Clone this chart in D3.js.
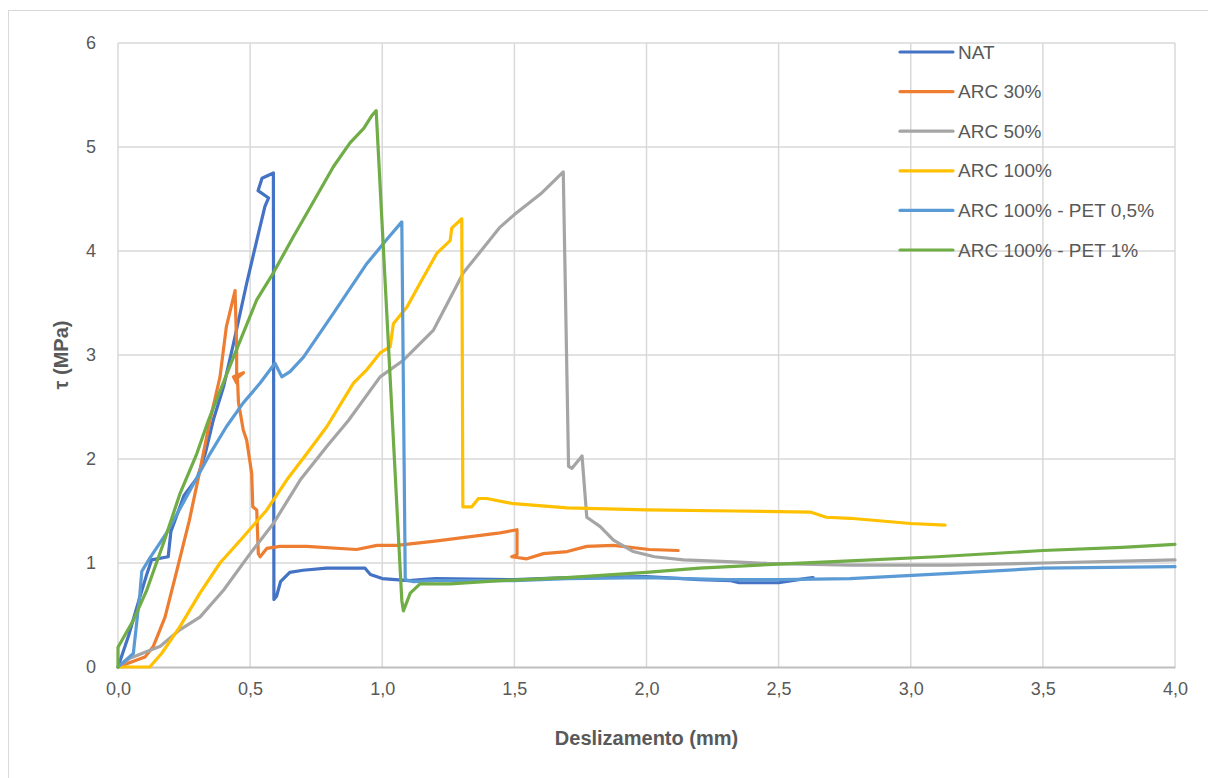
<!DOCTYPE html>
<html>
<head>
<meta charset="utf-8">
<script src="https://cdn.jsdelivr.net/npm/d3@7"></script>
<style>
  body { margin: 0; background: #fff; }
  text { font-family: "Liberation Sans", Arial, sans-serif; fill: #595959; }
</style>
</head>
<body>
<script>
const seriesNames = ["NAT", "ARC 30%", "ARC 50%", "ARC 100%", "ARC 100% - PET 0,5%", "ARC 100% - PET 1%"]
const colors = ["#4472C4", "#ED7D31", "#A5A5A5", "#FFC000", "#5B9BD5", "#70AD47"]
const xTicks = [0, 0.5, 1, 1.5, 2, 2.5, 3, 3.5, 4]
const yTicks = [0, 1, 2, 3, 4, 5, 6]

// [deslizamento mm, tau MPa]
const nat = [[0,0],[0.04,0.3],[0.08,0.65],[0.11,0.9],[0.127,1.03],[0.19,1.06],[0.2,1.3],[0.25,1.65],[0.3,1.82],[0.33,2.05],[0.36,2.37],[0.4,2.7],[0.437,3.11],[0.487,3.69],[0.525,4.1],[0.556,4.43],[0.57,4.51],[0.53,4.58],[0.545,4.70],[0.588,4.75],[0.59,0.65],[0.6,0.68],[0.615,0.82],[0.65,0.91],[0.7,0.93],[0.79,0.95],[0.935,0.95],[0.955,0.89],[1.0,0.85],[1.1,0.83],[1.2,0.85],[1.5,0.84],[1.7,0.86],[2.0,0.87],[2.2,0.84],[2.32,0.83],[2.35,0.81],[2.5,0.81],[2.6,0.85],[2.63,0.86]]
const arc30 = [[0,0],[0.102,0.095],[0.134,0.2],[0.178,0.48],[0.22,0.9],[0.27,1.41],[0.31,1.89],[0.348,2.37],[0.386,2.79],[0.41,3.27],[0.443,3.62],[0.449,3.08],[0.449,2.73],[0.437,2.79],[0.475,2.83],[0.452,2.78],[0.456,2.54],[0.474,2.28],[0.487,2.18],[0.506,1.86],[0.51,1.54],[0.525,1.51],[0.531,1.09],[0.538,1.06],[0.563,1.14],[0.613,1.16],[0.714,1.16],[0.903,1.13],[0.98,1.17],[1.055,1.17],[1.2,1.21],[1.446,1.29],[1.51,1.32],[1.51,1.08],[1.49,1.06],[1.547,1.04],[1.61,1.09],[1.7,1.11],[1.774,1.16],[1.875,1.17],[2.01,1.13],[2.12,1.12]]
const arc50 = [[0,0],[0.045,0.085],[0.16,0.2],[0.235,0.36],[0.31,0.48],[0.4,0.74],[0.5,1.09],[0.588,1.38],[0.69,1.8],[0.79,2.12],[0.872,2.37],[0.992,2.79],[1.08,2.95],[1.194,3.24],[1.307,3.79],[1.446,4.23],[1.5,4.35],[1.6,4.55],[1.685,4.76],[1.705,1.93],[1.718,1.91],[1.756,2.03],[1.774,1.44],[1.825,1.35],[1.875,1.22],[1.95,1.11],[2.03,1.06],[2.14,1.03],[2.33,1.01],[2.456,0.996],[2.77,0.98],[3.15,0.98],[3.5,1.0],[4.0,1.03]]
const arc100 = [[0,0],[0.12,0],[0.165,0.13],[0.235,0.39],[0.31,0.71],[0.386,1.0],[0.474,1.25],[0.563,1.51],[0.639,1.8],[0.714,2.05],[0.79,2.31],[0.891,2.73],[0.942,2.86],[0.992,3.02],[1.03,3.08],[1.042,3.3],[1.093,3.46],[1.143,3.69],[1.207,3.98],[1.257,4.1],[1.263,4.22],[1.301,4.31],[1.305,1.54],[1.339,1.54],[1.364,1.62],[1.395,1.62],[1.497,1.57],[1.7,1.53],[2.0,1.51],[2.33,1.5],[2.62,1.49],[2.68,1.44],[2.77,1.43],[3.0,1.38],[3.13,1.365]]
const pet05 = [[0,0],[0.058,0.13],[0.083,0.71],[0.09,0.92],[0.121,1.05],[0.184,1.29],[0.26,1.64],[0.348,2.05],[0.41,2.31],[0.474,2.54],[0.538,2.73],[0.594,2.92],[0.62,2.79],[0.651,2.84],[0.702,2.98],[0.815,3.4],[0.942,3.88],[1.017,4.11],[1.074,4.28],[1.087,0.84],[1.118,0.82],[1.2,0.83],[1.5,0.83],[1.7,0.85],[2.0,0.86],[2.3,0.84],[2.5,0.84],[2.77,0.85],[3.15,0.9],[3.5,0.95],[4.0,0.965]]
const pet1 = [[0,0],[0,0.19],[0.058,0.45],[0.109,0.74],[0.172,1.19],[0.235,1.67],[0.298,2.05],[0.342,2.37],[0.437,2.98],[0.525,3.53],[0.588,3.79],[0.664,4.14],[0.714,4.36],[0.815,4.81],[0.878,5.04],[0.93,5.18],[0.96,5.3],[0.977,5.35],[1.074,0.64],[1.08,0.54],[1.106,0.71],[1.143,0.8],[1.257,0.8],[1.446,0.83],[1.7,0.86],[2.0,0.91],[2.2,0.95],[2.5,0.99],[2.77,1.02],[3.1,1.06],[3.5,1.12],[3.8,1.15],[4.0,1.18]]

const series = [nat, arc30, arc50, arc100, pet05, pet1]

const width = 1208, height = 778
const margin = {left: 118, right: 33, top: 43, bottom: 111}

const svg = d3.select("body")
    .append("svg")
    .attr("width", width)
    .attr("height", height)

// chart border
svg.append("rect")
    .attr("x", 8.5).attr("y", 10.5)
    .attr("width", 1210).attr("height", 790)
    .attr("fill", "none")
    .attr("stroke", "#d9d9d9")

const x = d3.scaleLinear().domain([0, 4]).range([margin.left, width - margin.right])
const y = d3.scaleLinear().domain([0, 6]).range([height - margin.bottom, margin.top])

// grid
svg.append("g")
    .selectAll("line.v")
    .data(xTicks)
    .join("line")
    .attr("x1", d => x(d)).attr("x2", d => x(d))
    .attr("y1", y(6)).attr("y2", y(0))
    .attr("stroke", "#d9d9d9").attr("stroke-width", 1.5)

svg.append("g")
    .selectAll("line.h")
    .data(yTicks.slice(1))
    .join("line")
    .attr("x1", x(0)).attr("x2", x(4))
    .attr("y1", d => y(d)).attr("y2", d => y(d))
    .attr("stroke", "#d9d9d9").attr("stroke-width", 1.5)

// x axis
const xAxis = svg.append("g")
    .attr("transform", `translate(0,${y(0)})`)
    .call(d3.axisBottom(x).tickValues(xTicks).tickSize(0).tickPadding(15)
        .tickFormat(d => d3.format(".1f")(d).replace(".", ",")))
xAxis.select(".domain").attr("stroke", "#bfbfbf").attr("stroke-width", 2)
xAxis.selectAll("text").attr("font-size", 18).attr("fill", "#595959")

// y axis
const yAxis = svg.append("g")
    .attr("transform", `translate(${x(0)},0)`)
    .call(d3.axisLeft(y).tickValues(yTicks).tickSize(0).tickPadding(22).tickFormat(d3.format("d")))
yAxis.select(".domain").remove()
yAxis.selectAll("text").attr("font-size", 18).attr("fill", "#595959")

// lines
const line = d3.line().x(d => x(d[0])).y(d => y(d[1]))
svg.append("g")
    .selectAll("path")
    .data(series)
    .join("path")
    .attr("d", line)
    .attr("fill", "none")
    .attr("stroke", (d, i) => colors[i])
    .attr("stroke-width", 3.2)
    .attr("stroke-linejoin", "round")
    .attr("stroke-linecap", "round")

// axis titles
svg.append("text")
    .attr("x", (x(0) + x(4)) / 2).attr("y", 745)
    .attr("text-anchor", "middle")
    .attr("font-size", 20).attr("font-weight", "bold")
    .text("Deslizamento (mm)")

svg.append("text")
    .attr("transform", `translate(68,${y(3)}) rotate(-90)`)
    .attr("text-anchor", "middle")
    .attr("font-size", 20).attr("font-weight", "bold")
    .text("τ (MPa)")

// legend
const legend = svg.append("g")
    .selectAll("g")
    .data(seriesNames)
    .join("g")
    .attr("transform", (d, i) => `translate(900,${52 + i * 39.6})`)
legend.append("line")
    .attr("x1", 0).attr("x2", 53)
    .attr("stroke", (d, i) => colors[i])
    .attr("stroke-width", 3.2)
    .attr("stroke-linecap", "round")
legend.append("text")
    .attr("x", 58).attr("dy", "0.35em")
    .attr("font-size", 19)
    .text(d => d)
</script>
</body>
</html>
